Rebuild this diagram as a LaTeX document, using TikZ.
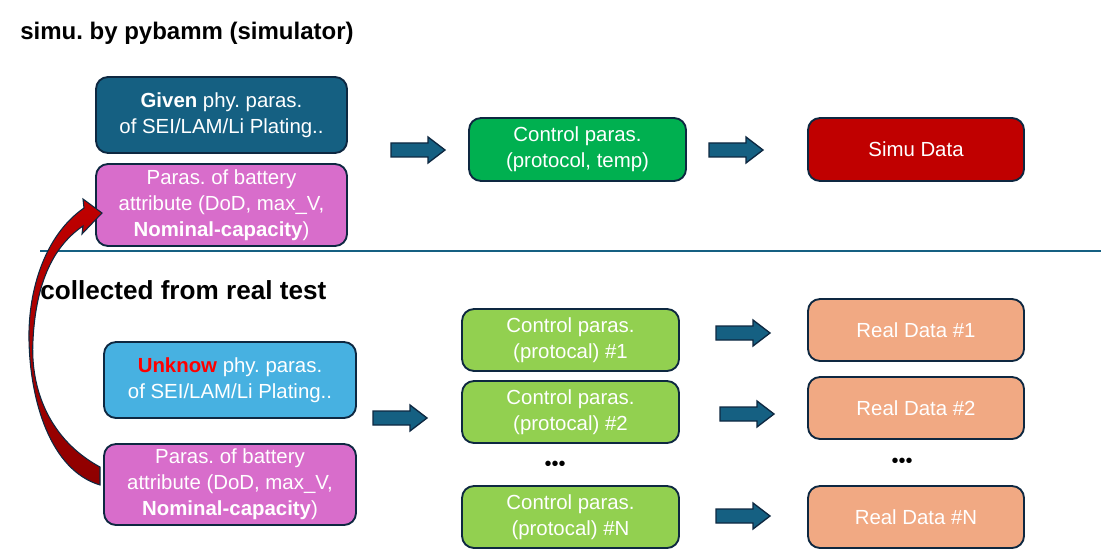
\documentclass[tikz,border=0pt]{standalone}
\usepackage{fontspec}
\setmainfont{Liberation Sans}
\usetikzlibrary{calc}
\frenchspacing
\definecolor{cBorder}{HTML}{0E2841}
\definecolor{cGiven}{HTML}{156082}
\definecolor{cPink}{HTML}{D86DCB}
\definecolor{cGreen}{HTML}{00B050}
\definecolor{cLGreen}{HTML}{92D050}
\definecolor{cRed}{HTML}{C00000}
\definecolor{cSalmon}{HTML}{F1A983}
\definecolor{cLBlue}{HTML}{47B1E1}
\definecolor{cUnk}{HTML}{FF0000}
\definecolor{cRedA}{HTML}{C00000}
\definecolor{cRedB}{HTML}{8E0000}
\tikzset{
  box/.style={draw=cBorder, line width=1.4pt, rounded corners=9pt, text=white,
    align=center, font=\fontsize{15.3}{19.5}\selectfont, inner sep=0pt},
  sz/.style 2 args={minimum width=#1*0.75pt, minimum height=#2*0.75pt},
  heading/.style={anchor=west, font=\bfseries\fontsize{18}{21}\selectfont, text=black, inner sep=0pt},
  dotsnode/.style={font=\fontsize{15}{16}\selectfont, text=black, inner sep=0pt},
  blockarr/.pic={\path[draw=cBorder, fill=cGiven, line width=1pt]
     (-27,-7) -- (10,-7) -- (10,-13) -- (27,0) -- (10,13) -- (10,7) -- (-27,7) -- cycle;}
}
\begin{document}
\begin{tikzpicture}[x=0.75pt,y=-0.75pt]
\useasboundingbox (0,0) rectangle (1120,549);

% headings
\node[heading] (title) at (20,33) {simu. by pybamm (simulator)};
\node[heading, font=\bfseries\fontsize{19.6}{22}\selectfont] (title2) at (40,290) {collected from real test};

% separator
\coordinate (l1) at (40,251);
\coordinate (l2) at (1101,251);
\draw[cGiven, line width=1.5pt] (l1) -- (l2);

% top row
\node[box, fill=cGiven, sz={251}{76}] (given) at (221.5,115) {\textbf{Given} phy. paras.\\of SEI/LAM/Li Plating..};
\node[box, fill=cPink, sz={251}{82}] (attr1) at (221.5,205) {Paras. of battery\\attribute (DoD, max\_V,\\\textbf{Nominal-capacity})};
\node[box, fill=cGreen, sz={217}{63}] (ctrl) at (577.5,149.5) {Control paras.\\(protocol, temp)};
\node[box, fill=cRed, sz={216}{63}] (simu) at (916,149.5) {Simu Data};

\pic at (418,150) {blockarr};
\pic at (736,150) {blockarr};

% bottom part
\node[box, fill=cLBlue, sz={252}{76}] (unk) at (230,380) {\textcolor{cUnk}{\textbf{Unknow}} phy. paras.\\of SEI/LAM/Li Plating..};
\node[box, fill=cPink, sz={252}{81}] (attr2) at (230,484.5) {Paras. of battery\\attribute (DoD, max\_V,\\\textbf{Nominal-capacity})};

\node[box, fill=cLGreen, sz={217}{62}] (c1) at (570.5,340) {Control paras.\\(protocal) \#1};
\node[box, fill=cLGreen, sz={217}{62}] (c2) at (570.5,412) {Control paras.\\(protocal) \#2};
\node[dotsnode] (cdots) at (555,466) {•••};
\node[box, fill=cLGreen, sz={217}{62}] (cN) at (570.5,517) {Control paras.\\(protocal) \#N};

\node[box, fill=cSalmon, sz={216}{62}] (r1) at (916,330) {Real Data \#1};
\node[box, fill=cSalmon, sz={216}{62}] (r2) at (916,408) {Real Data \#2};
\node[dotsnode] (rdots) at (902,463) {•••};
\node[box, fill=cSalmon, sz={216}{62}] (rN) at (916,517) {Real Data \#N};

\pic at (400,418) {blockarr};
\pic at (743,333) {blockarr};
\pic at (747,414) {blockarr};
\pic at (743,516) {blockarr};

% curved feedback arrow
\path[draw=cBorder, line width=0.8pt, top color=cRedA, bottom color=cRedB]
  (100,467) .. controls (50,440) and (30,390) .. (33,340)
  .. controls (36,280) and (55,245) .. (83,226)
  -- (82,234) -- (102,213) -- (83,199) -- (84,208)
  .. controls (45,235) and (28,290) .. (29,340)
  .. controls (30,400) and (50,470) .. (100,485) -- cycle;
\end{tikzpicture}
\end{document}
